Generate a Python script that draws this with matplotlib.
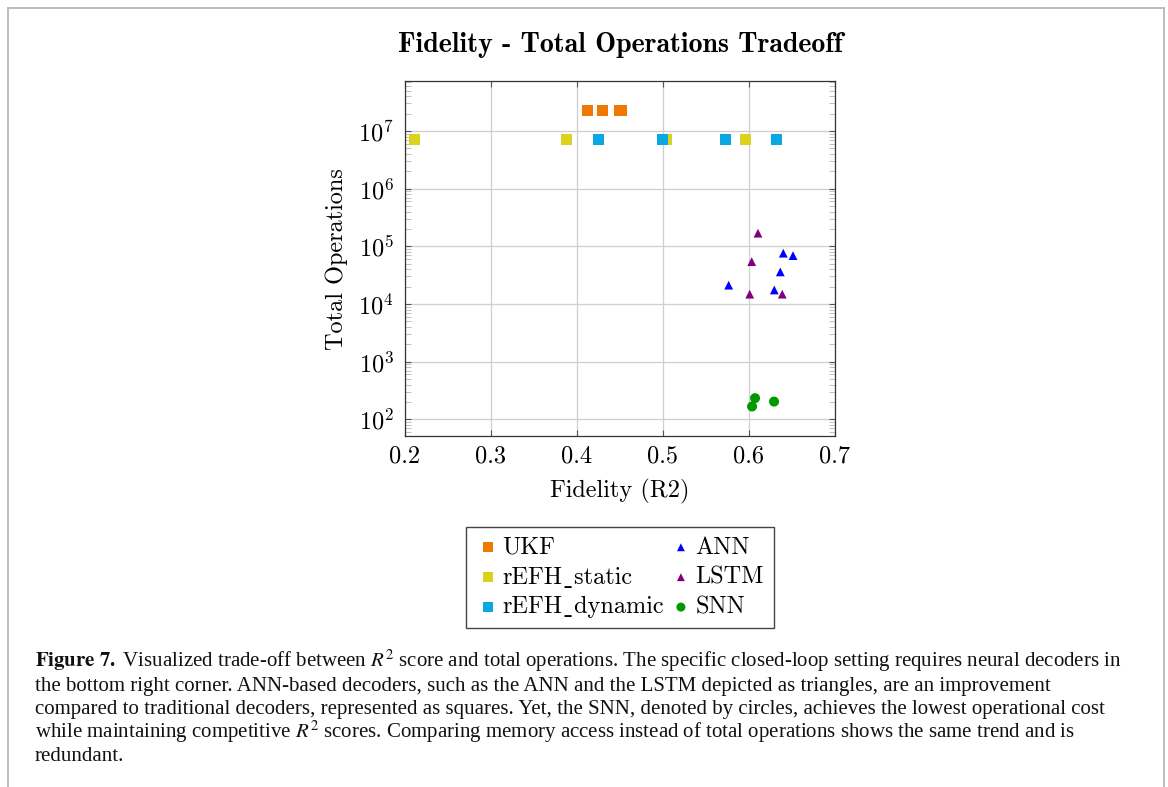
import matplotlib
matplotlib.use('Agg')
import matplotlib.pyplot as plt
from matplotlib.lines import Line2D
from matplotlib.ticker import LogLocator, NullFormatter

plt.rcParams['font.family'] = ['cmr10', 'DejaVu Serif']
plt.rcParams['mathtext.fontset'] = 'cm'
plt.rcParams['axes.formatter.use_mathtext'] = True
plt.rcParams['axes.unicode_minus'] = False

# ---------------- data ----------------
ukf_x = [0.4125, 0.4296, 0.4490, 0.4522]
ukf_y = [2.25e7, 2.25e7, 2.25e7, 2.25e7]

static_x = [0.2111, 0.3882, 0.5050, 0.5964]
static_y = [7.07e6, 7.07e6, 7.07e6, 7.07e6]

dynamic_x = [0.4250, 0.5000, 0.5733, 0.6323]
dynamic_y = [7.07e6, 7.07e6, 7.07e6, 7.07e6]

ann_x = [0.6404, 0.6517, 0.6369, 0.5768, 0.6299]
ann_y = [7.6e4, 6.9e4, 3.6e4, 2.12e4, 1.75e4]

lstm_x = [0.6109, 0.6036, 0.6013, 0.6392]
lstm_y = [1.69e5, 5.43e4, 1.48e4, 1.48e4]

snn_x = [0.6075, 0.6040, 0.6296]
snn_y = [233, 167, 203]

x_ticks = [0.2, 0.3, 0.4, 0.5, 0.6, 0.7]

# U+02CD (low macron) stands in for the underscore, which cmr10 lacks
series_labels = ["UKF", "rEFH\u02CDstatic", "rEFH\u02CDdynamic", "ANN", "LSTM", "SNN"]

title = "Fidelity - Total Operations Tradeoff"
xlabel = "Fidelity (R2)"
ylabel = "Total Operations"

caption_lines = [
    r"$\mathbf{Figure\ 7.\ }$Visualized trade-off between $R^2$ score and total operations. The specific closed-loop setting requires neural decoders in",
    "the bottom right corner. ANN-based decoders, such as the ANN and the LSTM depicted as triangles, are an improvement",
    "compared to traditional decoders, represented as squares. Yet, the SNN, denoted by circles, achieves the lowest operational cost",
    r"while maintaining competitive $R^2$ scores. Comparing memory access instead of total operations shows the same trend and is",
    "redundant.",
]

# ---------------- figure ----------------
W, H = 1168, 787
fig = plt.figure(figsize=(W / 100, H / 100), dpi=100)
fig.patch.set_facecolor('white')

ax_l, ax_r, ax_t, ax_b = 405, 834.5, 81.3, 436
ax = fig.add_axes([ax_l / W, 1 - ax_b / H, (ax_r - ax_l) / W, (ax_b - ax_t) / H])

FS = 17.5
sq = 60
tri = 40
cir = 52

ax.scatter(ukf_x, ukf_y, marker='s', s=sq, color='#F07800', edgecolors='none', label=series_labels[0], zorder=3)
ax.scatter(static_x, static_y, marker='s', s=sq, color='#DCD21E', edgecolors='none', label=series_labels[1], zorder=3)
ax.scatter(dynamic_x, dynamic_y, marker='s', s=sq, color='#0AA8E2', edgecolors='none', label=series_labels[2], zorder=3)
ax.scatter(ann_x, ann_y, marker='^', s=tri, color='#0000FF', edgecolors='none', label=series_labels[3], zorder=3)
ax.scatter(lstm_x, lstm_y, marker='^', s=tri, color='#800080', edgecolors='none', label=series_labels[4], zorder=3)
ax.scatter(snn_x, snn_y, marker='o', s=cir, color='#009A00', edgecolors='none', label=series_labels[5], zorder=3)

ax.set_yscale('log')
ax.set_xlim(0.2, 0.7)
ax.set_ylim(10 ** 1.711, 10 ** 7.861)
ax.set_xticks(x_ticks)
ax.set_xticklabels([f"{v:.1f}" for v in x_ticks])
ax.yaxis.set_major_locator(LogLocator(base=10, numticks=20))
ax.yaxis.set_minor_locator(LogLocator(base=10, subs=range(2, 10), numticks=50))
ax.yaxis.set_minor_formatter(NullFormatter())

ax.set_axisbelow(True)
ax.grid(True, which='major', color='#cfcfcf', linewidth=0.9)
for s in ax.spines.values():
    s.set_color('#333333')
    s.set_linewidth(0.9)

ax.tick_params(which='major', direction='in', length=4.5, width=0.8, color='#555555',
               top=True, right=True, labelsize=FS)
ax.tick_params(which='minor', direction='in', length=4.0, width=0.6, color='#b5b5b5',
               top=True, right=True)
ax.tick_params(axis='x', which='major', pad=7)
ax.tick_params(axis='y', which='major', pad=8)

ax.set_xlabel(xlabel, fontsize=FS, labelpad=8)
ax.set_ylabel(ylabel, fontsize=FS, labelpad=7)

fig.text((ax_l + ax_r) / 2 / W, 1 - 45 / H, title, fontsize=20.1, family=['cmb10', 'DejaVu Serif'],
         ha='center', va='center')

leg = ax.legend(ncol=2, loc='center', bbox_to_anchor=((ax_l + ax_r) / 2 / W, 1 - 577.5 / H),
                bbox_transform=fig.transFigure, fontsize=FS, frameon=True, fancybox=False,
                edgecolor='#444444', framealpha=1, handletextpad=0.1, columnspacing=0.2,
                labelspacing=0.32, borderpad=0.4, handlelength=1.0, markerscale=0.9,
                prop={'family': ['cmr10', 'DejaVu Sans'], 'size': FS})
leg.get_frame().set_linewidth(1.0)

# caption
caps = []
for i, line in enumerate(caption_lines):
    t = fig.text(35 / W, 1 - (667 + 23.6 * i) / H, line, fontsize=14, family=['Liberation Serif'],
                 math_fontfamily='stix', ha='left', va='baseline', color='#111111')
    caps.append(t)
fig.canvas.draw()
r = fig.canvas.get_renderer()
w0 = caps[0].get_window_extent(r).width
scale = 1090 / w0
for t in caps:
    t.set_fontsize(14 * scale)

# page frame
fc = '#b8b8b8'
fig.add_artist(Line2D([8 / W, 1164 / W], [1 - 8 / H, 1 - 8 / H], transform=fig.transFigure, color=fc, lw=1.3))
fig.add_artist(Line2D([8 / W, 8 / W], [0, 1 - 8 / H], transform=fig.transFigure, color=fc, lw=1.3))
fig.add_artist(Line2D([1164 / W, 1164 / W], [0, 1 - 8 / H], transform=fig.transFigure, color=fc, lw=1.3))

fig.savefig('out.png', dpi=100, facecolor='white')
